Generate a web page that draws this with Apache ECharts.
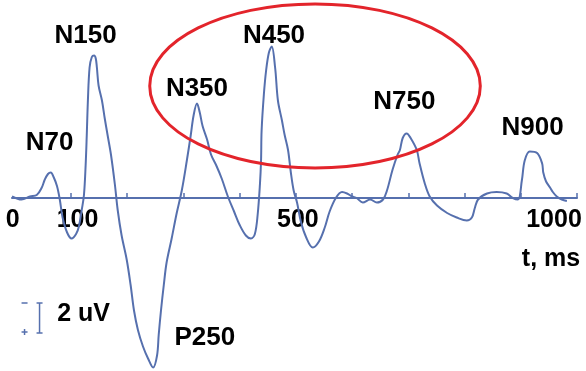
<!DOCTYPE html>
<html><head><meta charset="utf-8">
<script src="https://cdn.jsdelivr.net/npm/echarts@6/dist/echarts.min.js"></script>
<style>html,body{margin:0;padding:0;background:#fff}#c{width:586px;height:371px}</style>
</head><body><div id="c"></div>
<script>
// time (ms) of each traced point
const times = [-5,12,27,39,48,53,59,64,69,75,80,85,93,101,109,114,119,123,126,128,130,133,137,141,144,146,149,155,160,165,171,178,183,190,199,206,212,219,228,237,246,253,256,260,265,270,279,288,297,306,313,318,324,329,334,342,349,358,368,379,390,400,411,420,427,432,436,438,439,443,447,452,457,463,468,475,480,486,491,496,502,509,518,530,541,551,560,571,582,591,600,608,619,632,644,655,662,672,681,685,690,697,704,715,720,729,738,751,769,786,804,813,818,824,840,857,875,886,895,902,907,916,929,938,940,945,952,957,964,973,982];
// amplitude (uV), negative drawn upward
const volts = [-0.1,0.1,-0.1,-0.2,-0.7,-1.2,-1.6,-1.7,-1.4,-0.8,0.1,1.3,2.3,2.7,2.4,1.9,0.8,-0.2,-2.2,-4.2,-6.5,-8.7,-9.4,-9.5,-9.3,-8.7,-7.5,-6.5,-5.3,-4.2,-2.9,-0.9,0.8,2.5,4.1,5.8,7.5,8.8,9.9,10.7,11.3,10.5,9.1,7.5,5.8,4.3,2.7,1.0,-0.5,-2.5,-4.2,-5.5,-6.3,-5.7,-4.8,-3.9,-2.9,-2.2,-1.3,-0.1,0.9,1.8,2.5,2.7,2.4,1.1,-0.9,-2.5,-4.5,-6.9,-8.5,-9.7,-10.1,-8.7,-6.5,-5.2,-4.2,-3.2,-1.7,-0.5,0.3,1.6,2.6,3.3,2.9,2.0,0.9,0,-0.4,-0.3,-0.1,0,0.3,0.1,0.3,0.1,-0.5,-1.9,-2.9,-3.2,-4.0,-4.3,-4.0,-3.2,-2.3,-1.0,-0.1,0.5,1.0,1.3,1.5,1.3,0.7,0.1,-0.3,-0.4,-0.3,0,0.1,-1.2,-2.5,-3.1,-3.0,-2.3,-1.7,-1.1,-0.7,-0.4,-0.1,0.1,0.2];
// component labels
const peakNames = ['N70','N150','N350','N450','N750','N900','P250'];
const peakTimes = [62,126,324,461,693,921,338];
const peakVolts = [-3.7,-10.8,-7.3,-10.8,-6.4,-4.7,9.3];
// axis labels and ticks
const tickValues = [100,200,300,400,500,600,700,800,900,1000];
const labelValues = [0,100,500,1000];
// highlight ellipse (data units): center time, center volt, half width ms, half height uV
const ellipseC = [534,-7.47];
const ellipseR = [294,5.47];
// scale bar: time, from, to (uV)
const scaleBar = [44,7.0,9.0];

const blue = '#5670ae';
const chart = echarts.init(document.getElementById('c'));
const shift = {0:'z',100:'h',500:'f',1000:'k'};
const lbl = {fontFamily:'Liberation Sans',fontWeight:'bold',fontSize:25,color:'#000'};
chart.setOption({
  backgroundColor:'#fff',
  animation:false,
  grid:{left:12,right:9,top:6,bottom:173,containLabel:false,outerBoundsMode:'none'},
  xAxis:{type:'value',min:-5,max:1000,position:'bottom',
    axisLine:{onZero:false,lineStyle:{color:blue,width:2}},
    axisTick:{show:true,inside:true,length:5,customValues:tickValues,lineStyle:{color:blue,width:1.5}},
    splitLine:{show:false},
    axisLabel:{customValues:labelValues,margin:10,color:'#000',fontFamily:'Liberation Sans',fontWeight:'bold',fontSize:25,
      formatter:v=>'{'+shift[v]+'|'+v+'}',
      rich:{
        z:Object.assign({padding:[0,4,0,0]},lbl),
        h:Object.assign({padding:[0,0,0,13]},lbl),
        f:Object.assign({padding:[0,0,0,4]},lbl),
        k:Object.assign({padding:[0,46,0,0]},lbl)
      }}
  },
  yAxis:{type:'value',min:-12.8,max:0,inverse:true,show:false,splitLine:{show:false}},
  series:[
    {type:'line',data:times.map((t,i)=>[t,volts[i]]),smooth:0.35,symbol:'none',clip:false,
     lineStyle:{color:blue,width:2},z:3,silent:true},
    {type:'scatter',data:peakTimes.map((t,i)=>[t,peakVolts[i],peakNames[i]]),symbolSize:0,silent:true,clip:false,
     itemStyle:{opacity:1,color:'rgba(0,0,0,0)'},
     label:{show:true,position:[0,0],align:'center',verticalAlign:'middle',formatter:p=>p.data[2],color:'#000',
       textBorderWidth:0,fontFamily:'Liberation Sans',fontWeight:'bold',fontSize:26},z:5}
  ]
});

function px(t,v){return chart.convertToPixel({gridIndex:0},[t,v]);}
const c = px(ellipseC[0],ellipseC[1]);
const e = px(ellipseC[0]+ellipseR[0],ellipseC[1]+ellipseR[1]);
const s1 = px(scaleBar[0],scaleBar[1]);
const s2 = px(scaleBar[0],scaleBar[2]);
const axisEnd = px(1000,0);
chart.setOption({graphic:[
  {type:'ellipse',shape:{cx:c[0],cy:c[1],rx:e[0]-c[0],ry:e[1]-c[1]},
   style:{fill:'none',stroke:'#e3242b',lineWidth:3},z:10},
  {type:'polyline',shape:{points:[[s1[0]-3,s1[1]],[s1[0]+3,s1[1]]]},style:{stroke:blue,lineWidth:1.5}},
  {type:'polyline',shape:{points:[[s1[0],s1[1]],[s2[0],s2[1]]]},style:{stroke:blue,lineWidth:1.5}},
  {type:'polyline',shape:{points:[[s2[0]-3,s2[1]],[s2[0]+3,s2[1]]]},style:{stroke:blue,lineWidth:1.5}},
  {type:'polyline',shape:{points:[[s1[0]-18,s1[1]],[s1[0]-12,s1[1]]]},style:{stroke:blue,lineWidth:1.5}},
  {type:'polyline',shape:{points:[[s2[0]-18,s2[1]-1],[s2[0]-12,s2[1]-1]]},style:{stroke:blue,lineWidth:1.5}},
  {type:'polyline',shape:{points:[[s2[0]-15,s2[1]-4],[s2[0]-15,s2[1]+2]]},style:{stroke:blue,lineWidth:1.5}},
  {type:'text',x:s1[0]+44,y:(s1[1]+s2[1])/2-4,style:{text:'2 uV',fill:'#000',font:'bold 25px Liberation Sans',align:'center',verticalAlign:'middle'}},
  {type:'text',x:axisEnd[0]-26,y:axisEnd[1]+61,style:{text:'t, ms',fill:'#000',font:'bold 25px Liberation Sans',align:'center',verticalAlign:'middle'}}
]});
</script></body></html>
